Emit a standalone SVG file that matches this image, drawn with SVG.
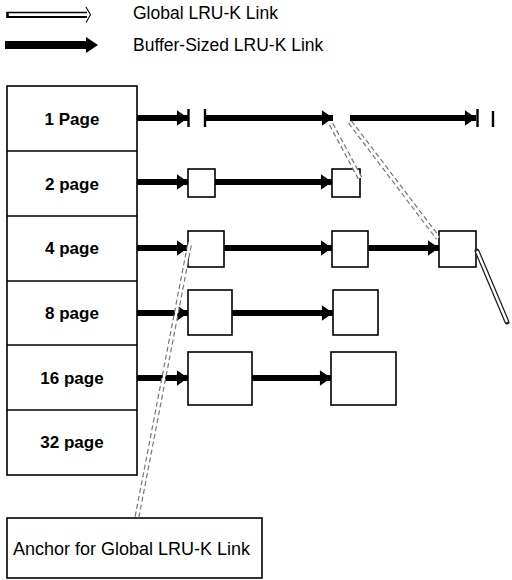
<svg xmlns="http://www.w3.org/2000/svg" width="512" height="580" viewBox="0 0 512 580">
<defs>
<style>
.box{fill:#fff;stroke:#000;stroke-width:1.6}
.lbl{font-family:"Liberation Sans",Arial,sans-serif;font-size:17px;font-weight:bold;fill:#000;text-anchor:middle}
.leg{font-family:"Liberation Sans",Arial,sans-serif;font-size:17.5px;fill:#000}
.anc{font-family:"Liberation Sans",Arial,sans-serif;font-size:18px;fill:#000}
.thick{fill:none;stroke:#000;stroke-width:6;marker-end:url(#ah)}
.bar{stroke:#000;stroke-width:2.4}
.gout{fill:none;stroke:#777;stroke-width:5;stroke-dasharray:5 3}
.gin{fill:none;stroke:#fff;stroke-width:2.6}
.gsolid{fill:none;stroke:#222;stroke-width:5;stroke-linecap:round}
</style>
<marker id="ah" markerWidth="2" markerHeight="2.6" refX="1.7" refY="1.2" orient="auto" markerUnits="strokeWidth" viewBox="0 0 1.7 2.4">
<path d="M0,0 L1.7,1.2 L0,2.4 Z" fill="#000"/>
</marker>
</defs>

<g id="legend">
<path d="M8,12.5 H87" stroke="#000" stroke-width="1.3" fill="none"/>
<path d="M8,17 H87" stroke="#000" stroke-width="2" fill="none"/>
<path d="M7.5,11.8 V18" stroke="#000" stroke-width="2.6" fill="none"/>
<path d="M86,7 L90.5,14.8 L86,22.5" stroke="#000" stroke-width="1.1" fill="none"/>
<text class="leg" x="133" y="19">Global LRU-K Link</text>
<path d="M5,45 H88" stroke="#000" stroke-width="8"/>
<path d="M86,37 L98,45 L86,53 Z" fill="#000"/>
<text class="leg" x="133" y="51">Buffer-Sized LRU-K Link</text>
</g>

<g id="size-list">
<rect class="box" x="7" y="86" width="130" height="389"/>
<path d="M7,151 H137 M7,216 H137 M7,281 H137 M7,345 H137 M7,410 H137" stroke="#000" stroke-width="1.6"/>
<text class="lbl" x="72" y="125">1 Page</text>
<text class="lbl" x="72" y="190">2 page</text>
<text class="lbl" x="72" y="254">4 page</text>
<text class="lbl" x="72" y="319">8 page</text>
<text class="lbl" x="72" y="384">16 page</text>
<text class="lbl" x="72" y="448">32 page</text>
</g>

<g id="page2-b1"><rect class="box" x="188" y="169" width="27" height="28"/></g>
<g id="page2-b2"><rect class="box" x="332" y="169" width="28" height="28"/></g>
<g id="page4-b1"><rect class="box" x="188" y="231" width="36" height="36"/></g>
<g id="page4-b2"><rect class="box" x="332" y="231" width="36" height="36"/></g>
<g id="page4-b3"><rect class="box" x="439" y="231" width="37" height="36"/></g>
<g id="page8-b1"><rect class="box" x="188" y="290" width="44" height="45"/></g>
<g id="page8-b2"><rect class="box" x="333" y="290" width="45" height="45"/></g>
<g id="page16-b1"><rect class="box" x="188" y="352" width="64" height="53"/></g>
<g id="page16-b2"><rect class="box" x="331" y="352" width="65" height="53"/></g>

<g id="anchor">
<rect class="box" x="7" y="518" width="255" height="60"/>
<text class="anc" x="13" y="555">Anchor for Global LRU-K Link</text>
</g>

<g id="connectors">
<!-- buffer-sized links -->
<path class="thick" d="M137,118 H188"/>
<path class="bar" d="M188.5,109 V127"/>
<path class="bar" d="M205,109 V127"/>
<path class="thick" d="M205,118 H333"/>
<path class="thick" d="M350,118 H476"/>
<path class="bar" d="M477.5,109 V127"/>
<path class="bar" d="M493,111 V127"/>
<path class="thick" d="M137,182 H188"/>
<path class="thick" d="M215,182 H332"/>
<path class="thick" d="M137,248 H188"/>
<path class="thick" d="M224,248 H332"/>
<path class="thick" d="M368,248 H439"/>
<path class="thick" d="M137,313 H188"/>
<path class="thick" d="M232,313 H333"/>
<path class="thick" d="M137,378 H188"/>
<path class="thick" d="M252,378 H331"/>
<!-- global links -->
<path class="gout" d="M137,517 L190,242"/>
<path class="gin" d="M137,517 L190,242"/>
<path class="gout" d="M360,178 L330,122"/>
<path class="gin" d="M360,178 L330,122"/>
<path class="gout" d="M350,122 L438,238"/>
<path class="gin" d="M350,122 L438,238"/>
<path class="gsolid" d="M477,251 L507,322"/>
<path d="M477,251 L507,322" stroke="#fff" stroke-width="2.4" fill="none"/>
</g>
</svg>
